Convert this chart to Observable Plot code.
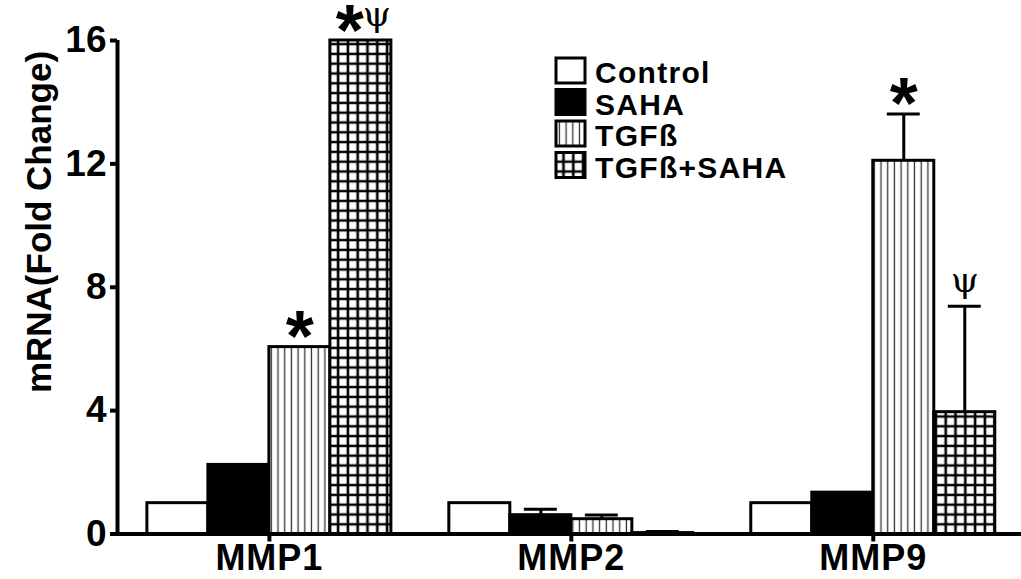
<!DOCTYPE html>
<html><head><meta charset="utf-8">
<script src="https://cdn.jsdelivr.net/npm/d3@7"></script>
<script src="https://cdn.jsdelivr.net/npm/@observablehq/plot@0.6"></script>
<style>
body{margin:0;background:#fff;}
#wrap{position:relative;width:1021px;height:579px;font-family:"Liberation Sans",Arial,sans-serif;overflow:hidden;}
#legend{position:absolute;left:0;top:0;pointer-events:none;}
g[aria-label="x-axis tick label"] text{letter-spacing:1px;}
</style></head><body>
<svg width="0" height="0" style="position:absolute">
<defs>
<pattern id="vlines" patternUnits="userSpaceOnUse" width="6.7" height="10"><rect width="6.7" height="10" fill="white"/><line x1="3.3" y1="0" x2="3.3" y2="10" stroke="#333" stroke-width="1.3"/></pattern>
<pattern id="grid" patternUnits="userSpaceOnUse" width="9.8" height="9.8"><rect width="9.8" height="9.8" fill="white"/><path d="M0 4.9H9.8M4.9 0V9.8" stroke="black" stroke-width="2.6"/></pattern>
</defs></svg>
<div id="wrap"></div>
<script>
const groups = ["MMP1", "MMP2", "MMP9"];
const series = ["Control", "SAHA", "TGFß", "TGFß+SAHA"];
const controlValues = [1.0, 1.0, 1.0];
const sahaValues = [2.24, 0.61, 1.34];
const tgfValues = [6.06, 0.48, 12.1];
const tgfSahaValues = [16.0, 0.03, 3.95];
const controlSE = [0, 0, 0];
const sahaSE = [0, 0.19, 0];
const tgfSE = [0, 0.14, 1.52];
const tgfSahaSE = [0, 0.05, 3.43];
const yTicks = [0, 4, 8, 12, 16];
const yLabel = "mRNA(Fold Change)";
const annGroups = ["MMP1", "MMP1", "MMP1", "MMP9", "MMP9"];
const annSeries = ["TGFß", "TGFß+SAHA", "TGFß+SAHA", "TGFß", "TGFß+SAHA"];
const annLabels = ["*", "*", "ψ", "*", "ψ"];

const seriesFill = ["white", "black", "url(#vlines)", "url(#grid)"];
const allValues = [controlValues, sahaValues, tgfValues, tgfSahaValues];
const allSE = [controlSE, sahaSE, tgfSE, tgfSahaSE];
const G = 4.95; // group step in bar widths
const rows = [];
allValues.forEach((vals, si) => vals.forEach((v, gi) => rows.push({
  group: groups[gi], series: series[si], si, gi, value: v, se: allSE[si][gi],
  x1: gi * G + si, x2: gi * G + si + 1, xc: gi * G + si + 0.5
})));
const errRows = rows.filter(d => d.se > 0);
const ann = annLabels.map((t, i) => {
  const r = rows.find(d => d.group === annGroups[i] && d.series === annSeries[i]);
  const both = annLabels.filter((u, j) => annGroups[j] === annGroups[i] && annSeries[j] === annSeries[i]).length > 1;
  return {label: t, x: r.xc, y: r.value + r.se, shift: both ? (t === "*" ? -11 : 16) : 0};
});
const shifts = [...new Set(ann.map(d => d.shift))];
const annMarks = [];
shifts.forEach(s => {
  const st = ann.filter(d => d.label === "*" && d.shift === s);
  const ps = ann.filter(d => d.label === "ψ" && d.shift === s);
  if (st.length) annMarks.push(Plot.text(st, {x: "x", y: "y", text: "label", dx: s, lineAnchor: "middle", dy: -9, fontSize: 72, fontWeight: "bold"}));
  if (ps.length) annMarks.push(Plot.text(ps, {x: "x", y: "y", text: "label", dx: s, lineAnchor: "middle", dy: -26, fontSize: 36, fontFamily: "DejaVu Serif, serif"}));
});
const xDomain = [-0.49, 14.33];

const chart = Plot.plot({
  width: 1021, height: 579,
  marginLeft: 117, marginRight: 0, marginTop: 40, marginBottom: 45.5,
  x: {domain: xDomain, axis: null},
  y: {domain: [0, 16], axis: null},
  style: {fontFamily: "Liberation Sans, Arial, sans-serif", background: "white", overflow: "visible", color: "black"},
  marks: [
    ...series.map((s, si) => Plot.rect(rows.filter(d => d.si === si), {
      x1: "x1", x2: "x2", y1: 0, y2: "value", fill: seriesFill[si], stroke: "black", strokeWidth: 3
    })),
    Plot.ruleX(errRows, {x: "xc", y1: "value", y2: d => d.value + d.se, strokeWidth: 3}),
    Plot.ruleY(errRows, {y: d => d.value + d.se, x1: d => d.xc - 0.27, x2: d => d.xc + 0.27, strokeWidth: 3}),
    Plot.ruleY([0], {strokeWidth: 4}),
    Plot.ruleX([xDomain[0]], {y1: 0, y2: 16, strokeWidth: 4}),
    Plot.axisY({ticks: yTicks, tickSize: 7, tickPadding: 4, strokeWidth: 4, fontSize: 37, fontWeight: "bold"}),
    Plot.axisX({ticks: groups.map((g, i) => i * G + 2), tickFormat: d => groups[Math.round((d - 2) / G)],
      tickSize: 8, tickPadding: 2, strokeWidth: 4, fontSize: 36, fontWeight: "bold"}),
    ...annMarks
  ]
});
document.getElementById("wrap").appendChild(chart);

// overlay: legend and rotated y-axis title
const lg = d3.select("#wrap").append("svg").attr("id", "legend").attr("width", 1021).attr("height", 579);
lg.append("text").attr("transform", "translate(51,222) rotate(-90)").attr("text-anchor", "middle")
  .attr("font-size", 35).attr("font-weight", "bold").attr("font-family", "Liberation Sans, Arial, sans-serif")
  .text(yLabel);
const legY = [58, 89.5, 121, 152.5];
series.forEach((s, i) => {
  lg.append("rect").attr("x", 556).attr("y", legY[i]).attr("width", 29).attr("height", 25)
    .attr("fill", seriesFill[i]).attr("stroke", "black").attr("stroke-width", 3);
  lg.append("text").attr("x", 595).attr("y", legY[i] + 25).text(s)
    .attr("font-size", 30).attr("font-weight", "bold").attr("letter-spacing", "1.3px")
    .attr("font-family", "Liberation Sans, Arial, sans-serif");
});
</script>
</body></html>
